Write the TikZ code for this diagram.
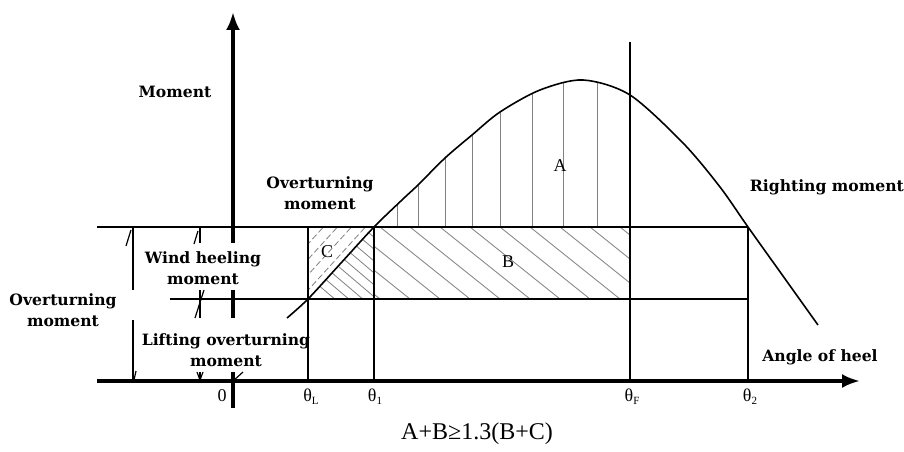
\documentclass[tikz,border=0pt]{standalone}
\usepackage{fontspec}
\setmainfont{Liberation Serif}
\newfontfamily\labfont{DejaVu Serif}
\usetikzlibrary{arrows.meta}
\newcommand{\thsub}[1]{θ\raisebox{-0.35ex}{\fontsize{11}{11}\selectfont #1}}
\begin{document}
\begin{tikzpicture}[x=1pt,y=-1pt,
  lbl/.style={font=\labfont\bfseries\fontsize{15.6}{21}\selectfont, align=center, inner sep=0pt},
  txt/.style={font=\fontsize{18}{20}\selectfont, inner sep=0pt},
  axisline/.style={line width=3.5pt},
  ln/.style={line width=1.6pt},
  thin/.style={line width=1.2pt},
  hatch/.style={line width=0.8pt, black!50},
  chatch/.style={line width=0.8pt, black!50, dash pattern=on 6pt off 3pt}]
\useasboundingbox (0,0) rectangle (904,452);

% hatching A (vertical lines under the curve)
\begin{scope}
  \clip plot[smooth] coordinates {(287,318) (308,299) (341,263) (374,227) (403,199) (418,185) (445,158) (472,135) (500,112) (540,90) (583,80) (630,95) (683,143) (720,187) (748,227) (793,290) (818,325)} -- cycle;
  \foreach \x in {397,418,445,472,500,532,563,597}
    \draw[hatch] (\x,227) -- (\x,40);
\end{scope}
% hatching B
\begin{scope}
  \clip (374,227) rectangle (630,299);
  \foreach \x in {290,320,...,660}
    \draw[hatch] (\x,227) -- ++(100,80);
\end{scope}
\begin{scope}
  \clip (308,299) -- (374,227) -- (374,299) -- cycle;
  \foreach \x in {250,264,...,390}
    \draw[hatch] (\x,227) -- ++(100,85);
\end{scope}
% hatching C
\begin{scope}
  \clip (308,227) -- (374,227) -- (308,299) -- cycle;
  \foreach \x in {230,244,...,310}
    \draw[chatch] (\x,299) -- ++(100,-110);
\end{scope}

% horizontal and vertical reference lines
\draw[ln] (97,227) -- (748,227);
\draw[ln] (170,299) -- (748,299);
\draw[ln] (308,227) -- (308,381);
\draw[ln] (374,227) -- (374,381);
\draw[ln] (630,42) -- (630,381);
\draw[ln] (748,227) -- (748,381);

% righting moment curve
\draw[ln] plot[smooth] coordinates {(287,318) (308,299) (341,263) (374,227) (403,199) (418,185) (445,158) (472,135) (500,112) (540,90) (583,80) (630,95) (683,143) (720,187) (748,227) (793,290) (818,325)};

% dimension lines
\draw[thin] (133,227) -- (133,290) (133,320) -- (133,381);
\draw[thin] (126,246) -- (131,230);
\draw[thin] (134,380) -- (136,371);
\draw[thin] (200,227) -- (200,243) (200,290) -- (200,318) (200,372) -- (200,381);
\draw[thin] (194,244) -- (198,231);
\draw[thin] (195,318) -- (204,290);
\draw[thin] (197,372) -- (200,380) -- (203,372);
\draw[thin] (233,381) -- (243,372);

% axes
\draw[axisline,-{Latex[length=18pt,width=14pt]}] (233,243) -- (233,12);
\draw[axisline] (233,290) -- (233,318) (233,372) -- (233,408);
\draw[axisline,-{Latex[length=18pt,width=14pt]}] (97,381) -- (860,381);

% labels
\node[lbl] (moment) at (175,92) {Moment};
\node[lbl] (over1) at (320,193) {Overturning\\moment};
\node[lbl] (wind) at (203,268) {Wind heeling\\moment};
\node[lbl] (over2) at (63,310) {Overturning\\moment};
\node[lbl] (lift) at (226,350) {Lifting overturning\\moment};
\node[lbl,anchor=east] (right) at (904,187) {Righting moment};
\node[lbl] (angle) at (820,357) {Angle of heel};

\node[txt] (A) at (560,166) {A};
\node[txt] (B) at (508,262) {B};
\node[txt] (C) at (327,252) {C};

\node[txt] (t0) at (222,396) {0};
\node[txt] (tL) at (311,397) {\thsub{L}};
\node[txt] (t1) at (375,397) {\thsub{1}};
\node[txt] (tF) at (632,397) {\thsub{F}};
\node[txt] (t2) at (750,397) {\thsub{2}};

\node[font=\fontsize{24}{26}\selectfont, inner sep=0pt] (cap) at (477,434) {A+B≥1.3(B+C)};
\end{tikzpicture}
\end{document}
